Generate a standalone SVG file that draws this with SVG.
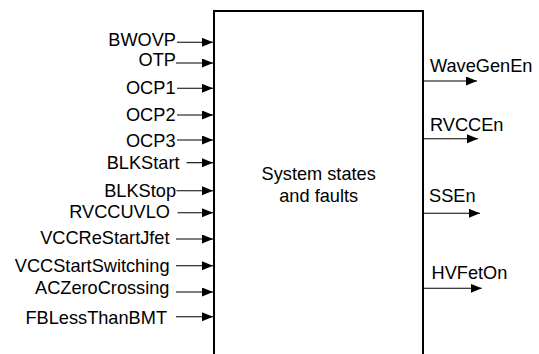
<svg xmlns="http://www.w3.org/2000/svg" width="539" height="354" viewBox="0 0 539 354">
<style>
text{font-family:"Liberation Sans",Arial,Helvetica,sans-serif;font-size:18.2px;fill:#000}
.in{text-anchor:end}
.out{text-anchor:start}
.mid{text-anchor:middle}
.c{stroke:#000;stroke-width:1.1;fill:none;marker-end:url(#ah)}
.box{stroke:#000;stroke-width:2;fill:#fff}
</style>
<defs>
<marker id="ah" markerUnits="userSpaceOnUse" markerWidth="12" markerHeight="10" refX="11" refY="4.5" orient="auto">
<path d="M0,0 L11,4.5 L0,9 z" fill="#000"/>
</marker>
</defs>
<rect width="539" height="354" fill="#fff"/>
<g id="system">
<path class="box" d="M214,360 V11 H423 V360"/>
<text class="mid" x="318.7" y="180">System states</text>
<text class="mid" x="318.7" y="201.7">and faults</text>
</g>
<g id="in-BWOVP"><text class="in" x="176" y="45.5">BWOVP</text></g>
<g id="in-OTP"><text class="in" x="176" y="66">OTP</text></g>
<g id="in-OCP1"><text class="in" x="175.5" y="94">OCP1</text></g>
<g id="in-OCP2"><text class="in" x="175.5" y="120.5">OCP2</text></g>
<g id="in-OCP3"><text class="in" x="175.5" y="146.5">OCP3</text></g>
<g id="in-BLKStart"><text class="in" x="179.5" y="169">BLKStart</text></g>
<g id="in-BLKStop"><text class="in" x="176" y="196.5">BLKStop</text></g>
<g id="in-RVCCUVLO"><text class="in" x="170" y="218">RVCCUVLO</text></g>
<g id="in-VCCReStartJfet"><text class="in" x="169.5" y="244">VCCReStartJfet</text></g>
<g id="in-VCCStartSwitching"><text class="in" x="169.5" y="271.5">VCCStartSwitching</text></g>
<g id="in-ACZeroCrossing"><text class="in" x="169.5" y="294">ACZeroCrossing</text></g>
<g id="in-FBLessThanBMT"><text class="in" x="167" y="324">FBLessThanBMT</text></g>
<g id="out-WaveGenEn"><text class="out" x="430" y="71.5">WaveGenEn</text></g>
<g id="out-RVCCEn"><text class="out" x="430" y="130.5">RVCCEn</text></g>
<g id="out-SSEn"><text class="out" x="429" y="202">SSEn</text></g>
<g id="out-HVFetOn"><text class="out" x="431.5" y="279">HVFetOn</text></g>
<g id="connectors">
<line class="c" x1="177" y1="42.3" x2="213" y2="42.3"/>
<line class="c" x1="176" y1="63" x2="213" y2="63"/>
<line class="c" x1="177" y1="88.3" x2="213" y2="88.3"/>
<line class="c" x1="177" y1="115" x2="213" y2="115"/>
<line class="c" x1="177" y1="140" x2="213" y2="140"/>
<line class="c" x1="186.5" y1="162.7" x2="213" y2="162.7"/>
<line class="c" x1="176.5" y1="190.7" x2="213" y2="190.7"/>
<line class="c" x1="177.5" y1="212.7" x2="213" y2="212.7"/>
<line class="c" x1="176" y1="239" x2="213" y2="239"/>
<line class="c" x1="176" y1="265.7" x2="213" y2="265.7"/>
<line class="c" x1="176" y1="292" x2="213" y2="292"/>
<line class="c" x1="176" y1="316.7" x2="213" y2="316.7"/>
<line class="c" x1="424" y1="81" x2="477" y2="81"/>
<line class="c" x1="424" y1="138.7" x2="478" y2="138.7"/>
<line class="c" x1="424" y1="213.3" x2="480" y2="213.3"/>
<line class="c" x1="424" y1="288.3" x2="481.7" y2="288.3"/>
</g>
</svg>
